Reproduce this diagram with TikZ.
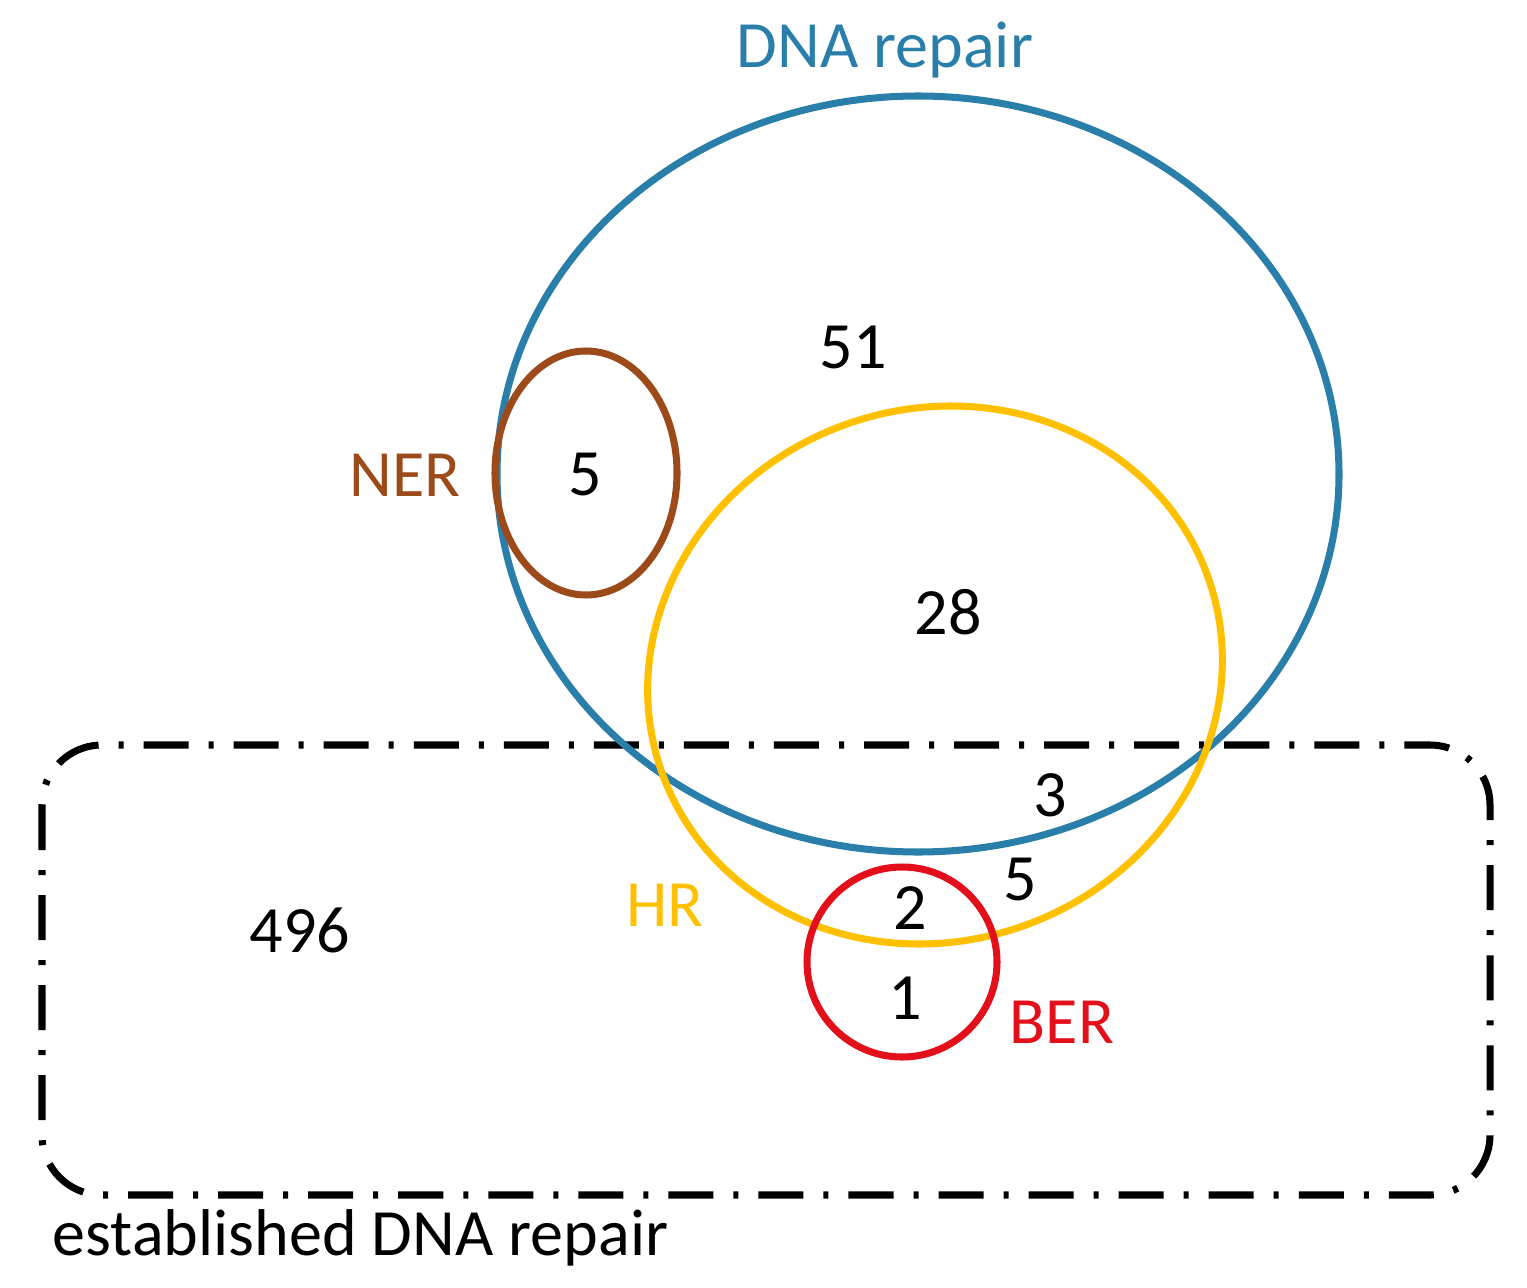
\documentclass[tikz,border=0pt]{standalone}
\usepackage{fontspec}
\setmainfont{Carlito}
\definecolor{dnablue}{HTML}{2A7FAA}
\definecolor{nerbrown}{HTML}{9C4A1A}
\definecolor{hryellow}{HTML}{FFC000}
\definecolor{berred}{HTML}{E3101C}
\tikzset{
  setline/.style={line width=2pt},
  lbl/.style={font=\fontsize{18.8}{21}\selectfont, inner sep=0pt},
}
\begin{document}
\begin{tikzpicture}[x=0.01cm,y=-0.01cm]
\useasboundingbox (0,0) rectangle (1527,1288);

% established box
\draw [line width=2pt, dash pattern=on 0.45cm off 0.2cm on 0.05cm off 0.2cm, rounded corners=0.6cm]
  (42,745) rectangle (1490,1195);

% sets
\draw [setline, dnablue] (918,474) ellipse [x radius=421, y radius=378];
\draw [setline, nerbrown] (586,473) ellipse [x radius=91, y radius=122];
\draw [setline, hryellow, rotate around={20:(935,675)}] (935,675) ellipse [x radius=290, y radius=266];
\draw [setline, berred] (902,962) circle [radius=95];

% labels
\node [lbl, dnablue] (dna) at (885,50) {DNA repair};
\node [lbl, nerbrown] (ner) at (405,475) {NER};
\node [lbl, hryellow] (hr) at (665,905) {HR};
\node [lbl, berred] (ber) at (1062,1022) {BER};
\node [lbl, anchor=west] (est) at (52,1238) {established DNA repair};

% counts
\node [lbl] (n51) at (853,347) {51};
\node [lbl] (n5a) at (585,475) {5};
\node [lbl] (n28) at (948,612) {28};
\node [lbl] (n3) at (1050,795) {3};
\node [lbl] (n5b) at (1020,880) {5};
\node [lbl] (n2) at (910,908) {2};
\node [lbl] (n1) at (905,998) {1};
\node [lbl] (n496) at (300,930) {496};
\end{tikzpicture}
\end{document}
